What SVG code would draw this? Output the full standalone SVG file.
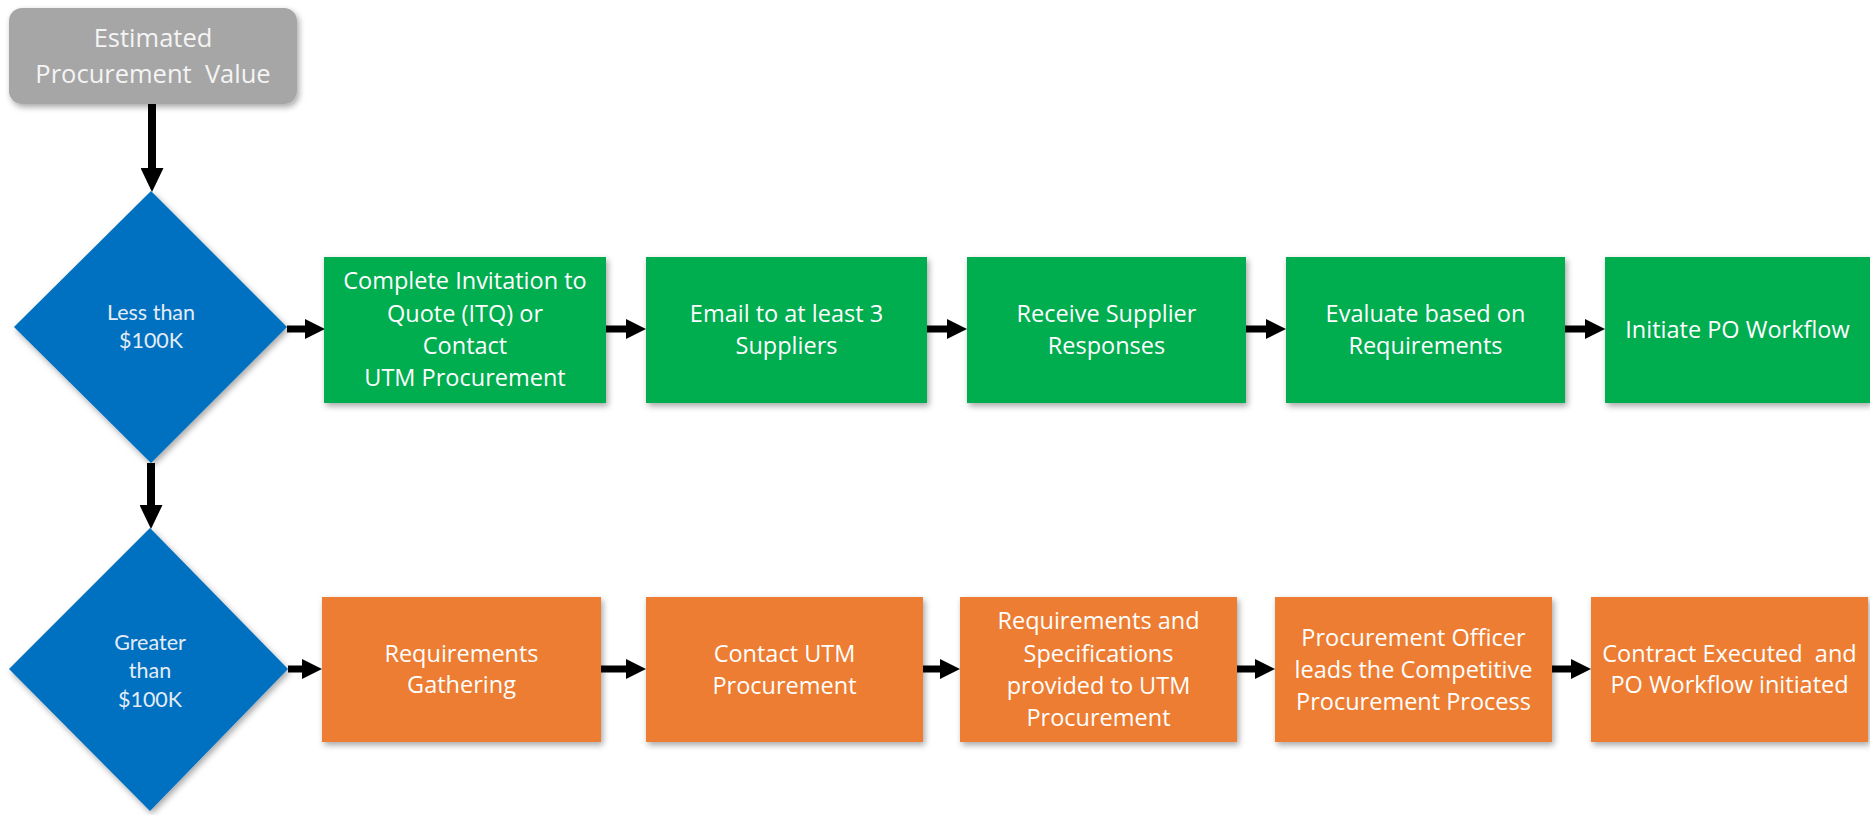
<svg xmlns="http://www.w3.org/2000/svg" width="1870" height="815" viewBox="0 0 1870 815">
<style>
.box{stroke:none}
.green{fill:#00AD50}
.orange{fill:#ED7D31}
.blue{fill:#0070C0}
.gray{fill:#A6A6A6}
.t{font-family:"Open Sans","Liberation Sans",sans-serif;font-size:23.5px;fill:#FFFFFF;text-anchor:middle}
.tg{font-family:"Open Sans","Liberation Sans",sans-serif;font-size:25.5px;fill:#F4F4F4;text-anchor:middle}
.td{font-family:Lato,"Liberation Sans",sans-serif;font-size:21.5px;fill:#E4ECF7;text-anchor:middle}
.c{stroke:#000;stroke-width:7;fill:none}
.cv{stroke:#000;stroke-width:8;fill:none}
</style>
<defs>
<filter id="sh" x="-10%" y="-10%" width="125%" height="130%">
<feDropShadow dx="2" dy="3" stdDeviation="3" flood-color="#000" flood-opacity="0.35"/>
</filter>
<marker id="ah" viewBox="0 0 20 20" refX="0" refY="10" markerWidth="20" markerHeight="20" markerUnits="userSpaceOnUse" orient="auto">
<path d="M0,0 L20,10 L0,20 Z" fill="#000"/>
</marker>
<marker id="av" viewBox="0 0 24 23" refX="0" refY="11.5" markerWidth="24" markerHeight="23" markerUnits="userSpaceOnUse" orient="auto">
<path d="M0,0 L24,11.5 L0,23 Z" fill="#000"/>
</marker>
</defs>

<g id="connectors">
<line class="cv" x1="152" y1="104" x2="152" y2="168" marker-end="url(#av)"/>
<line class="cv" x1="151" y1="463" x2="151" y2="505" marker-end="url(#av)"/>
<line class="c" x1="287" y1="329" x2="305" y2="329" marker-end="url(#ah)"/>
<line class="c" x1="606" y1="329" x2="626" y2="329" marker-end="url(#ah)"/>
<line class="c" x1="927" y1="329" x2="947" y2="329" marker-end="url(#ah)"/>
<line class="c" x1="1246" y1="329" x2="1266" y2="329" marker-end="url(#ah)"/>
<line class="c" x1="1565" y1="329" x2="1585" y2="329" marker-end="url(#ah)"/>
<line class="c" x1="288" y1="669" x2="302" y2="669" marker-end="url(#ah)"/>
<line class="c" x1="601" y1="669" x2="626" y2="669" marker-end="url(#ah)"/>
<line class="c" x1="923" y1="669" x2="940" y2="669" marker-end="url(#ah)"/>
<line class="c" x1="1237" y1="669" x2="1255" y2="669" marker-end="url(#ah)"/>
<line class="c" x1="1552" y1="669" x2="1571" y2="669" marker-end="url(#ah)"/>
</g>

<g id="start">
<rect class="box gray" x="9" y="8" width="288" height="96" rx="13" filter="url(#sh)"/>
<text class="tg" x="153" y="47">Estimated</text>
<text class="tg" x="153" y="83" xml:space="preserve">Procurement  Value</text>
</g>

<g id="d1">
<polygon class="box blue" points="151,191 287,327 151,463 14,327" filter="url(#sh)"/>
<text class="td" x="151" y="320">Less than</text>
<text class="td" x="151" y="348">$100K</text>
</g>

<g id="d2">
<polygon class="box blue" points="150,528 288,669 150,811 9,669" filter="url(#sh)"/>
<text class="td" x="150" y="650">Greater</text>
<text class="td" x="150" y="678">than</text>
<text class="td" x="150" y="707">$100K</text>
</g>

<g id="g1">
<rect class="box green" x="324" y="257" width="282" height="146" filter="url(#sh)"/>
<text class="t" x="465" y="289">Complete Invitation to</text>
<text class="t" x="465" y="322">Quote (ITQ) or</text>
<text class="t" x="465" y="354">Contact</text>
<text class="t" x="465" y="386">UTM Procurement</text>
</g>
<g id="g2">
<rect class="box green" x="646" y="257" width="281" height="146" filter="url(#sh)"/>
<text class="t" x="786.5" y="322">Email to at least 3</text>
<text class="t" x="786.5" y="354">Suppliers</text>
</g>
<g id="g3">
<rect class="box green" x="967" y="257" width="279" height="146" filter="url(#sh)"/>
<text class="t" x="1106.5" y="322">Receive Supplier</text>
<text class="t" x="1106.5" y="354">Responses</text>
</g>
<g id="g4">
<rect class="box green" x="1286" y="257" width="279" height="146" filter="url(#sh)"/>
<text class="t" x="1425.5" y="322">Evaluate based on</text>
<text class="t" x="1425.5" y="354">Requirements</text>
</g>
<g id="g5">
<rect class="box green" x="1605" y="257" width="265" height="146" filter="url(#sh)"/>
<text class="t" x="1737.5" y="338">Initiate PO Workflow</text>
</g>

<g id="o1">
<rect class="box orange" x="322" y="597" width="279" height="145" filter="url(#sh)"/>
<text class="t" x="461.5" y="662">Requirements</text>
<text class="t" x="461.5" y="693">Gathering</text>
</g>
<g id="o2">
<rect class="box orange" x="646" y="597" width="277" height="145" filter="url(#sh)"/>
<text class="t" x="784.5" y="662">Contact UTM</text>
<text class="t" x="784.5" y="694">Procurement</text>
</g>
<g id="o3">
<rect class="box orange" x="960" y="597" width="277" height="145" filter="url(#sh)"/>
<text class="t" x="1098.5" y="629">Requirements and</text>
<text class="t" x="1098.5" y="662">Specifications</text>
<text class="t" x="1098.5" y="694">provided to UTM</text>
<text class="t" x="1098.5" y="726">Procurement</text>
</g>
<g id="o4">
<rect class="box orange" x="1275" y="597" width="277" height="145" filter="url(#sh)"/>
<text class="t" x="1413.5" y="646">Procurement Officer</text>
<text class="t" x="1413.5" y="678">leads the Competitive</text>
<text class="t" x="1413.5" y="710">Procurement Process</text>
</g>
<g id="o5">
<rect class="box orange" x="1591" y="597" width="277" height="145" filter="url(#sh)"/>
<text class="t" x="1729.5" y="662" xml:space="preserve">Contract Executed  and</text>
<text class="t" x="1729.5" y="693">PO Workflow initiated</text>
</g>
</svg>
